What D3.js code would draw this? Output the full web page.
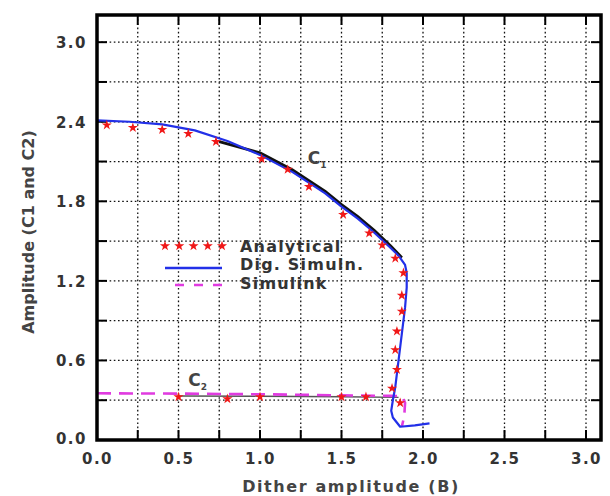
<!DOCTYPE html>
<html><head><meta charset="utf-8">
<script src="https://cdn.jsdelivr.net/npm/d3@7"></script>
<style>
html,body{margin:0;padding:0;background:#fff;}
svg{display:block;}
text{font-family:"DejaVu Sans",sans-serif;}
</style></head>
<body>
<svg id="chart" width="610" height="496"></svg>
<script>
// ---- data ----
const xTicks = [0, 0.5, 1.0, 1.5, 2.0, 2.5, 3.0];
const yTicks = [0, 0.6, 1.2, 1.8, 2.4, 3.0];
const xGrid = [0.25,0.5,0.75,1.0,1.25,1.5,1.75,2.0,2.25,2.5,2.75,3.0];
const yGrid = [0.3,0.6,0.9,1.2,1.5,1.8,2.1,2.4,2.7,3.0];

const c1AnalyticalX = [0.06,0.22,0.40,0.56,0.73,1.01,1.17,1.30,1.51,1.67,1.75,1.83,1.88,1.87,1.87,1.84,1.83,1.84,1.81];
const c1AnalyticalY = [2.375,2.355,2.34,2.31,2.25,2.12,2.04,1.91,1.70,1.56,1.47,1.37,1.26,1.09,0.97,0.82,0.68,0.53,0.39];
const c2AnalyticalX = [0.5,0.8,1.0,1.5,1.65,1.86];
const c2AnalyticalY = [0.325,0.31,0.325,0.325,0.325,0.28];

const digSimX = [0.0,0.2,0.4,0.6,0.8,1.0,1.2,1.4,1.5,1.6,1.7,1.8,1.85,1.89,1.90,1.90,1.89,1.87,1.85,1.83,1.815,1.805,1.815,1.86,1.95,2.04];
const digSimY = [2.41,2.40,2.38,2.335,2.255,2.15,2.02,1.86,1.76,1.67,1.565,1.45,1.39,1.32,1.26,1.15,1.00,0.80,0.60,0.40,0.30,0.22,0.17,0.10,0.11,0.125];

const c1BlackX = [0.75,1.0,1.2,1.4,1.5,1.6,1.7,1.8,1.87];
const c1BlackY = [2.25,2.165,2.035,1.875,1.775,1.685,1.58,1.465,1.375];

const simulinkX = [0.0,0.5,1.0,1.5,1.8,1.87,1.89,1.885,1.87];
const simulinkY = [0.352,0.35,0.345,0.337,0.333,0.33,0.28,0.18,0.10];

const c2GrayX = [0.5,1.0,1.5,1.85];
const c2GrayY = [0.332,0.33,0.326,0.322];

const legendLabels = ["Analytical","Dig. Simuln.","Simulink"];

// ---- layout ----
const svg = d3.select("#chart");
const L = 97, R = 601, T = 15, B = 440;
const x = d3.scaleLinear().domain([0, 3.092]).range([L, R]);
const y = d3.scaleLinear().domain([0, 3.205]).range([B, T]);
const toPts = (xs, ys) => xs.map((v,i)=>[v, ys[i]]);
const line = d3.line().x(d=>x(d[0])).y(d=>y(d[1]));

// grid
const g = svg.append("g");
g.selectAll(".gx").data(xGrid).join("line")
  .attr("x1",d=>x(d)).attr("x2",d=>x(d)).attr("y1",T).attr("y2",B)
  .attr("stroke","#111").attr("stroke-width",1.3).attr("stroke-dasharray","1.6,2.6");
g.selectAll(".gy").data(yGrid).join("line")
  .attr("y1",d=>y(d)).attr("y2",d=>y(d)).attr("x1",L).attr("x2",R)
  .attr("stroke","#111").attr("stroke-width",1.3).attr("stroke-dasharray","1.6,2.6");

// inward ticks on all sides
const tk = 10;
g.selectAll(".tb").data(xGrid).join("line")
  .attr("x1",d=>x(d)).attr("x2",d=>x(d)).attr("y1",B).attr("y2",B-tk)
  .attr("stroke","#000").attr("stroke-width",2);
g.selectAll(".tt").data(xGrid).join("line")
  .attr("x1",d=>x(d)).attr("x2",d=>x(d)).attr("y1",T).attr("y2",T+tk)
  .attr("stroke","#000").attr("stroke-width",2);
g.selectAll(".tl").data(yGrid).join("line")
  .attr("y1",d=>y(d)).attr("y2",d=>y(d)).attr("x1",L).attr("x2",L+tk)
  .attr("stroke","#000").attr("stroke-width",2);
g.selectAll(".tr").data(yGrid).join("line")
  .attr("y1",d=>y(d)).attr("y2",d=>y(d)).attr("x1",R).attr("x2",R-tk)
  .attr("stroke","#000").attr("stroke-width",2);

// series
svg.append("path").attr("d", line(toPts(c2GrayX,c2GrayY)))
  .attr("fill","none").attr("stroke","#555").attr("stroke-width",1.3);
svg.append("path").attr("d", line(toPts(c1BlackX,c1BlackY)))
  .attr("fill","none").attr("stroke","#111").attr("stroke-width",3);
svg.append("path").attr("d", line(toPts(simulinkX,simulinkY)))
  .attr("fill","none").attr("stroke","#e03be0").attr("stroke-width",2.6)
  .attr("stroke-dasharray","14,8");
svg.append("path").attr("d", line(toPts(digSimX,digSimY)))
  .attr("fill","none").attr("stroke","#2230e8").attr("stroke-width",2.2)
  .attr("stroke-linejoin","round");

const star = d3.symbol().type(d3.symbolStar).size(32);
svg.append("g").selectAll("path").data(toPts(c1AnalyticalX,c1AnalyticalY).concat(toPts(c2AnalyticalX,c2AnalyticalY)))
  .join("path").attr("d",star)
  .attr("transform",d=>`translate(${x(d[0])},${y(d[1])})`)
  .attr("fill","#f01818");

// frame
svg.append("rect").attr("x",L).attr("y",T).attr("width",R-L).attr("height",B-T)
  .attr("fill","none").attr("stroke","#000").attr("stroke-width",3.5);

// axes labels
const xAxis = d3.axisBottom(x).tickValues(xTicks).tickFormat(d3.format(".1f")).tickSize(0);
const ax = svg.append("g").attr("transform",`translate(0,${B})`).call(xAxis);
ax.select(".domain").remove();
ax.selectAll("text").attr("dy",null).attr("y",24)
  .attr("font-family","DejaVu Sans").attr("font-weight","bold").attr("font-size",15)
  .attr("letter-spacing","1.5px").attr("fill","#333");

const yAxis = d3.axisLeft(y).tickValues(yTicks).tickFormat(d3.format(".1f")).tickSize(0);
const ay = svg.append("g").attr("transform",`translate(${L},0)`).call(yAxis);
ay.select(".domain").remove();
ay.selectAll("text").attr("x",-10).attr("dy","0.36em")
  .attr("font-family","DejaVu Sans").attr("font-weight","bold").attr("font-size",15)
  .attr("letter-spacing","1.5px").attr("fill","#333");
ay.selectAll(".tick").filter(d=>d===0).select("text").attr("dy","0.2em");

svg.append("text").attr("x",(L+R)/2+2).attr("y",492).attr("text-anchor","middle")
  .attr("font-weight","bold").attr("font-size",16).attr("letter-spacing","1.6px")
  .attr("fill","#444").text("Dither amplitude (B)");
svg.append("text").attr("transform",`translate(34,232) rotate(-90)`).attr("text-anchor","middle")
  .attr("font-weight","bold").attr("font-size",16)
  .attr("fill","#444").text("Amplitude (C1 and C2)");

// curve labels
function clabel(px, py, sub){
  const t = svg.append("text").attr("x",px).attr("y",py).attr("font-weight","bold")
    .attr("font-size",17).attr("fill","#444").text("C");
  t.append("tspan").attr("font-size",9).attr("dy",4).text(sub);
}
clabel(x(1.293), y(2.085), "1");
clabel(x(0.56), y(0.405), "2");

// legend
const lg = svg.append("g");
const lx0 = 165, lx1 = 222, lyy = [246, 268, 285];
lg.selectAll("path.m").data(d3.range(5)).join("path").attr("d",star)
  .attr("transform",i=>`translate(${lx0 + i*(lx1-lx0)/4},${lyy[0]})`).attr("fill","#f01818");
lg.append("line").attr("x1",lx0).attr("x2",lx1).attr("y1",lyy[1]).attr("y2",lyy[1])
  .attr("stroke","#2230e8").attr("stroke-width",2.4);
lg.append("line").attr("x1",175).attr("x2",lx1).attr("y1",lyy[2]).attr("y2",lyy[2])
  .attr("stroke","#e03be0").attr("stroke-width",2.4).attr("stroke-dasharray","9,10");
lg.selectAll("text").data(legendLabels).join("text")
  .attr("x",240).attr("y",(d,i)=>[246,264,283][i]).attr("dy","0.36em")
  .attr("font-weight","bold").attr("font-size",16).attr("letter-spacing","1.2px")
  .attr("fill","#333").text(d=>d);
</script>
</body></html>
